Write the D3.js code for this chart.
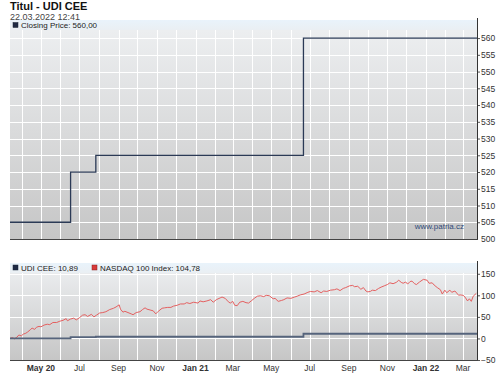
<!DOCTYPE html>
<html><head><meta charset="utf-8">
<script src="https://cdn.jsdelivr.net/npm/d3@7/dist/d3.min.js"></script>
<style>
body{margin:0;background:#fff;}
svg{display:block;font-family:"Liberation Sans",Arial,sans-serif;}
</style></head>
<body>
<svg id="c" width="500" height="379"></svg>
<script>
// ---- data ----
const titleText = "Titul - UDI CEE";
const dateText = "22.03.2022 12:41";
const priceLegend = "Closing Price: 560,00";
const udiLegend = "UDI CEE: 10,89";
const nasdaqLegend = "NASDAQ 100 Index: 104,78";
const watermark = "www.patria.cz";

const dateStart = "2020-03-13";
const dateEnd = "2022-03-23";

const priceDates = ["2020-03-13","2020-06-17","2020-07-27","2021-06-21","2022-03-23"];
const priceValues = [505, 520, 525, 560, 560];

const udiDates = ["2020-03-13","2020-06-17","2020-07-27","2021-06-21","2022-03-23"];
const udiValues = [0, 2.97, 3.96, 10.89, 10.89];

const nasdaqDates = ["2020-03-13","2020-03-17","2020-03-20","2020-03-24","2020-03-27","2020-03-31","2020-04-03","2020-04-07","2020-04-10","2020-04-14","2020-04-17","2020-04-21","2020-04-24","2020-04-28","2020-05-01","2020-05-06","2020-05-11","2020-05-15","2020-05-20","2020-05-26","2020-05-31","2020-06-05","2020-06-10","2020-06-12","2020-06-17","2020-06-22","2020-06-26","2020-07-01","2020-07-06","2020-07-10","2020-07-14","2020-07-20","2020-07-24","2020-07-28","2020-08-02","2020-08-07","2020-08-12","2020-08-18","2020-08-24","2020-08-28","2020-09-02","2020-09-04","2020-09-08","2020-09-11","2020-09-16","2020-09-21","2020-09-24","2020-09-29","2020-10-05","2020-10-09","2020-10-13","2020-10-16","2020-10-21","2020-10-26","2020-10-30","2020-11-03","2020-11-09","2020-11-13","2020-11-18","2020-11-23","2020-11-27","2020-12-03","2020-12-08","2020-12-14","2020-12-18","2020-12-23","2020-12-29","2021-01-05","2021-01-08","2021-01-13","2021-01-19","2021-01-25","2021-01-29","2021-02-03","2021-02-09","2021-02-12","2021-02-17","2021-02-22","2021-02-25","2021-03-01","2021-03-04","2021-03-08","2021-03-12","2021-03-17","2021-03-22","2021-03-26","2021-03-31","2021-04-05","2021-04-09","2021-04-14","2021-04-19","2021-04-23","2021-04-28","2021-05-04","2021-05-07","2021-05-12","2021-05-17","2021-05-21","2021-05-26","2021-06-01","2021-06-07","2021-06-11","2021-06-16","2021-06-22","2021-06-28","2021-07-02","2021-07-08","2021-07-13","2021-07-19","2021-07-23","2021-07-28","2021-08-03","2021-08-09","2021-08-13","2021-08-18","2021-08-23","2021-08-27","2021-09-02","2021-09-07","2021-09-10","2021-09-15","2021-09-20","2021-09-24","2021-09-28","2021-10-01","2021-10-05","2021-10-08","2021-10-13","2021-10-18","2021-10-22","2021-10-27","2021-11-01","2021-11-05","2021-11-10","2021-11-15","2021-11-19","2021-11-23","2021-11-26","2021-11-30","2021-12-03","2021-12-07","2021-12-10","2021-12-14","2021-12-17","2021-12-22","2021-12-28","2022-01-03","2022-01-06","2022-01-11","2022-01-14","2022-01-19","2022-01-24","2022-01-27","2022-01-31","2022-02-03","2022-02-08","2022-02-11","2022-02-16","2022-02-22","2022-02-24","2022-03-01","2022-03-04","2022-03-08","2022-03-11","2022-03-14","2022-03-17","2022-03-22"];
const nasdaqValues = [0,2,-1,3,8,6,10,12,15,20,24,21,26,28,27,31,33,32,37,37,40,42,46,41,45,47,43,48,54,55,51,56,50,54,59,60,62,67,70,73,78,68,61,63,60,57,55,60,62,67,71,68,66,64,57,63,70,71,72,72,75,77,80,80,83,81,84,82,87,85,87,90,84,90,94,96,93,85,82,86,77,76,84,86,83,82,88,94,98,99,97,100,99,92,93,86,88,90,94,93,96,98,101,103,107,109,108,111,106,110,109,112,113,115,111,116,118,122,123,120,121,114,118,110,108,109,112,111,116,119,122,125,129,127,130,135,130,128,131,126,132,133,127,125,131,137,135,128,129,124,118,113,103,112,106,112,107,110,100,101,100,96,87,92,86,98,104.78];

const topTicks = [500,505,510,515,520,525,530,535,540,545,550,555,560];
const botTicks = [-50,0,50,100,150];
const xTickDates = ["2020-05-01","2020-07-01","2020-09-01","2020-11-01","2021-01-01","2021-03-01","2021-05-01","2021-07-01","2021-09-01","2021-11-01","2022-01-01","2022-03-01"];
const xTickLabels = ["May 20","Jul","Sep","Nov","Jan 21","Mar","May","Jul","Sep","Nov","Jan 22","Mar"];
const xTickBold = [true,false,false,false,true,false,false,false,false,false,true,false];

// ---- layout ----
const parse = d3.utcParse("%Y-%m-%d");
const svg = d3.select("#c");
const L = 10, R = 477;
const top1 = 20, bot1 = 239;
const top2 = 263, bot2 = 360;

const x = d3.scaleUtc().domain([parse(dateStart), parse(dateEnd)]).range([L, R]);
const y1 = d3.scaleLinear().domain([500, 565.4]).range([bot1, top1]);
const y2 = d3.scaleLinear().domain([-50, 175]).range([bot2, top2]);

const defs = svg.append("defs");
function grad(id){
  const g = defs.append("linearGradient").attr("id", id).attr("x1",0).attr("y1",0).attr("x2",0).attr("y2",1);
  g.append("stop").attr("offset","0%").attr("stop-color","#eef0f2");
  g.append("stop").attr("offset","100%").attr("stop-color","#c6c6c6");
}
grad("g1"); grad("g2");
function bandGrad(id){
  const g = defs.append("linearGradient").attr("id", id).attr("x1",0).attr("y1",0).attr("x2",0).attr("y2",1);
  g.append("stop").attr("offset","0%").attr("stop-color","#e9f3fb");
  g.append("stop").attr("offset","100%").attr("stop-color","#eaeff3");
}
bandGrad("b1");

const monthLines = d3.utcMonth.range(parse("2020-04-01"), parse(dateEnd));

function panel(top, bot, y, ticks, gid){
  svg.append("rect").attr("x", L).attr("y", top).attr("width", R - L).attr("height", bot - top).attr("fill", `url(#${gid})`);
  const g = svg.append("g");
  g.selectAll("line.v").data(monthLines).join("line")
    .attr("x1", d => Math.round(x(d)) + 0.5).attr("x2", d => Math.round(x(d)) + 0.5)
    .attr("y1", top + 10).attr("y2", bot).attr("stroke", "#fff").attr("stroke-width", 1);
  g.selectAll("line.h").data(ticks).join("line")
    .attr("x1", L).attr("x2", R)
    .attr("y1", d => Math.round(y(d)) + 0.5).attr("y2", d => Math.round(y(d)) + 0.5)
    .attr("stroke", "#fff").attr("stroke-width", 1);
  svg.append("rect").attr("x", L).attr("y", top).attr("width", R - L).attr("height", 10).attr("fill", "url(#b1)");
  // right axis
  const ax = svg.append("g").attr("transform", `translate(${R},0)`)
    .call(d3.axisRight(y).tickValues(ticks).tickSize(3).tickPadding(1).tickFormat(d3.format("d")));
  ax.select(".domain").remove();
  ax.selectAll(".tick line").attr("stroke", "#555");
  ax.selectAll(".tick text").attr("font-size", "8.5px").attr("fill", "#333").attr("font-family", "Liberation Sans, Arial, sans-serif");
  svg.append("line").attr("x1", R + 0.5).attr("x2", R + 0.5).attr("y1", top - 2).attr("y2", bot + 1).attr("stroke", "#333");
  svg.append("line").attr("x1", L).attr("x2", R + 1).attr("y1", bot + 0.5).attr("y2", bot + 0.5).attr("stroke", "#444");
}
panel(top1, bot1, y1, topTicks.slice(1), "g1");
panel(top2, bot2, y2, botTicks, "g2");
// add 500 label on top panel
svg.append("text").attr("x", R + 4).attr("y", y1(500)).attr("dy", "0.32em")
  .attr("font-size", "8.5px").attr("fill", "#333").text(topTicks[0]);

// watermark
svg.append("text").attr("x", 464).attr("y", 229).attr("text-anchor", "end")
  .attr("font-size", "8px").attr("fill", "#2f4a78").text(watermark);

// top line
const line1 = d3.line().curve(d3.curveStepAfter).x(d => x(d[0])).y(d => y1(d[1]));
svg.append("path").datum(priceDates.map((d, i) => [parse(d), priceValues[i]]))
  .attr("d", line1).attr("fill", "none").attr("stroke", "#2b3a56").attr("stroke-width", 1.3);

// bottom lines
const line2 = d3.line().x(d => x(d[0])).y(d => y2(d[1]));
svg.append("path").datum(nasdaqDates.map((d, i) => [parse(d), nasdaqValues[i]]))
  .attr("d", line2).attr("fill", "none").attr("stroke", "#e46060").attr("stroke-width", 1).attr("stroke-linejoin", "round");
const line3 = d3.line().curve(d3.curveStepAfter).x(d => x(d[0])).y(d => y2(d[1]));
svg.append("path").datum(udiDates.map((d, i) => [parse(d), udiValues[i]]))
  .attr("d", line3).attr("fill", "none").attr("stroke", "#56647c").attr("stroke-width", 1.8);

// x axis labels
svg.append("g").selectAll("text").data(xTickDates).join("text")
  .attr("x", d => x(parse(d))).attr("y", 371).attr("text-anchor", "middle")
  .attr("font-size", "8.5px").attr("fill", "#333")
  .attr("font-weight", (d, i) => xTickBold[i] ? "bold" : "normal")
  .text((d, i) => xTickLabels[i]);

// titles
svg.append("text").attr("x", 10).attr("y", 10).attr("font-size", "11px").attr("font-weight", "bold")
  .attr("font-family", "'Liberation Sans Narrow', 'Liberation Sans', Arial, sans-serif").attr("fill", "#111").text(titleText);
svg.append("text").attr("x", 10).attr("y", 19.5).attr("font-size", "9px").attr("fill", "#444").text(dateText);

// legends
function legend(xp, yc, color, label){
  svg.append("rect").attr("x", xp).attr("y", yc - 3).attr("width", 5).attr("height", 5).attr("fill", color)
    .attr("stroke", color === "#d83a3a" ? "#8a2020" : "#1a2438").attr("stroke-width", 0.5);
  svg.append("text").attr("x", xp + 8).attr("y", yc).attr("dy", "0.35em").attr("font-size", "8px").attr("fill", "#222").text(label);
}
legend(13, 25.5, "#1e2a44", priceLegend);
legend(13, 268, "#1e2a44", udiLegend);
legend(92, 268, "#d83a3a", nasdaqLegend);
</script>
</body></html>
